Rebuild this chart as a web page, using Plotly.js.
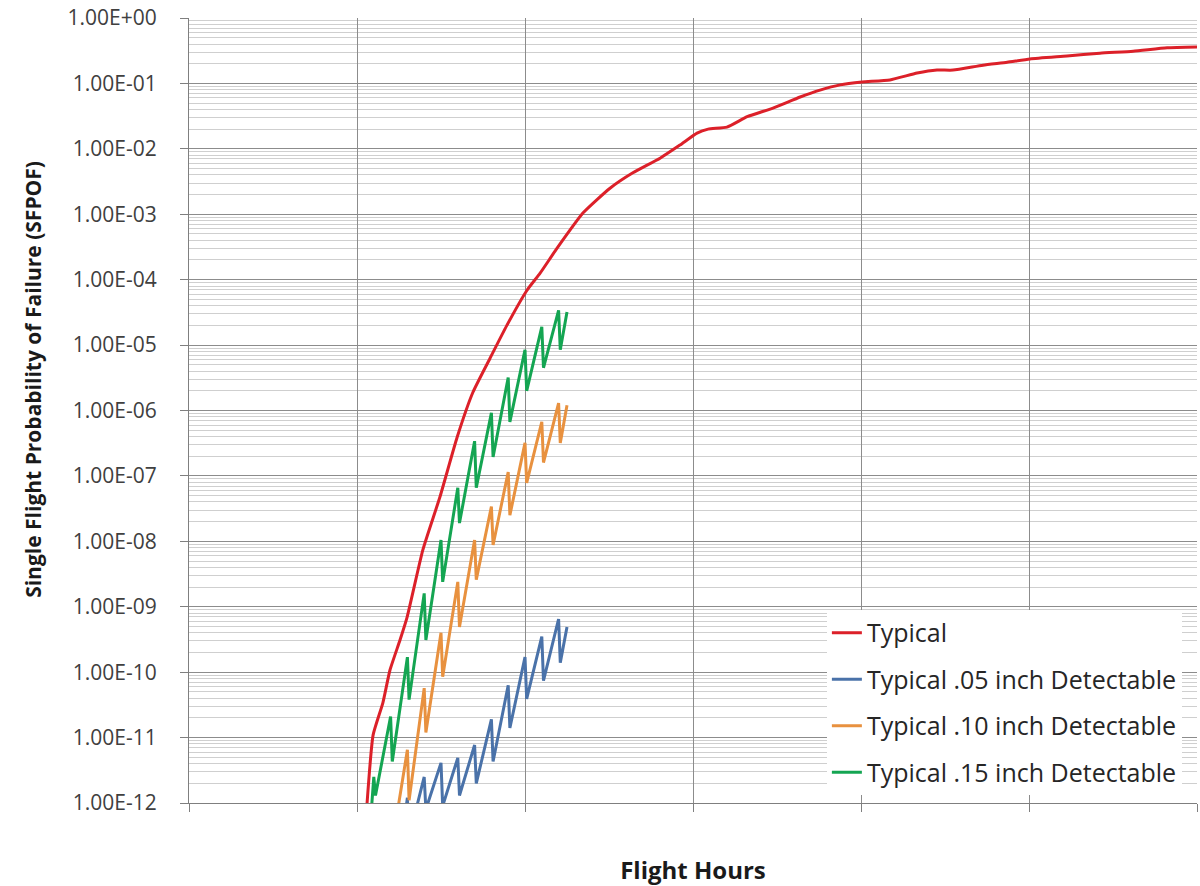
<!DOCTYPE html>
<html>
<head>
<meta charset="utf-8">
<script src="https://cdn.plot.ly/plotly-3.0.1.min.js"></script>
<style>
  html, body { margin: 0; padding: 0; background: #ffffff; }
  #chart { width: 1200px; height: 886px; }
</style>
</head>
<body>
<div id="chart"></div>
<script>
// Flight hours and single flight probability of failure for each case
const typicalHours = [5300, 5480, 5770, 5980, 6280, 6490, 6960, 7470, 7980, 8450, 8960, 9460, 10060, 10450, 10950, 11730, 12530, 13210, 14020, 14610, 15120, 15450, 16010, 16610, 17380, 18190, 18780, 19380, 20030, 20860, 21670, 22260, 22740, 23630, 24350, 25030, 26130, 27110, 28100, 29110, 30000];
const typicalPof = [1e-12, 1.1e-11, 3.4e-11, 1.07e-10, 3.1e-10, 6.9e-10, 7.4e-9, 4.8e-8, 3.9e-7, 1.9e-6, 6.3e-6, 2.0e-5, 6.9e-5, 1.26e-4, 3.0e-4, 1.05e-3, 2.5e-3, 4.3e-3, 7.2e-3, 1.14e-2, 1.74e-2, 2.0e-2, 2.15e-2, 3.1e-2, 4.2e-2, 6.2e-2, 7.9e-2, 9.5e-2, 0.105, 0.113, 0.144, 0.16, 0.16, 0.19, 0.21, 0.236, 0.262, 0.29, 0.31, 0.35, 0.36];

const det05Hours = [6420, 6500, 6550, 7000, 7050, 7500, 7550, 8000, 8050, 8500, 8550, 9000, 9050, 9500, 9550, 10000, 10050, 10500, 10550, 11000, 11050, 11250];
const det05Pof = [6e-13, 1.2e-12, 3e-13, 2.5e-12, 8e-13, 4.1e-12, 9e-13, 4.9e-12, 1.3e-12, 7.7e-12, 2.0e-12, 1.9e-11, 4.3e-12, 6.3e-11, 1.4e-11, 1.7e-10, 3.9e-11, 3.5e-10, 7.4e-11, 6.5e-10, 1.4e-10, 4.9e-10];

const det10Hours = [6150, 6500, 6550, 7000, 7050, 7500, 7550, 8000, 8050, 8500, 8550, 9000, 9050, 9500, 9550, 10000, 10050, 10500, 10550, 11000, 11050, 11250];
const det10Pof = [5e-13, 6.5e-12, 1.1e-12, 5.7e-11, 1.2e-11, 4.0e-10, 8.5e-11, 2.4e-9, 4.9e-10, 1.05e-8, 2.6e-9, 3.4e-8, 8.8e-9, 1.15e-7, 2.5e-8, 3.2e-7, 7.8e-8, 6.7e-7, 1.6e-7, 1.3e-6, 3.2e-7, 1.2e-6];

const det15Hours = [5400, 5500, 5550, 6000, 6050, 6500, 6550, 7000, 7050, 7500, 7550, 8000, 8050, 8500, 8550, 9000, 9050, 9500, 9550, 10000, 10050, 10500, 10550, 11000, 11050, 11250];
const det15Pof = [5e-13, 2.5e-12, 1.3e-12, 2.1e-11, 4.3e-12, 1.7e-10, 3.8e-11, 1.6e-9, 3.1e-10, 1.05e-8, 2.4e-9, 6.6e-8, 1.9e-8, 3.4e-7, 6.6e-8, 9.2e-7, 1.95e-7, 3.2e-6, 6.7e-7, 8.5e-6, 2.0e-6, 1.9e-5, 4.5e-6, 3.4e-5, 8.5e-6, 3.2e-5];

// Decade tick labels for the probability axis
const pofTickVals = [1e-12, 1e-11, 1e-10, 1e-9, 1e-8, 1e-7, 1e-6, 1e-5, 1e-4, 1e-3, 1e-2, 1e-1, 1];
const pofTickText = ["1.00E-12", "1.00E-11", "1.00E-10", "1.00E-09", "1.00E-08", "1.00E-07", "1.00E-06", "1.00E-05", "1.00E-04", "1.00E-03", "1.00E-02", "1.00E-01", "1.00E+00"];

const seriesNames = ["Typical", "Typical .05 inch Detectable", "Typical .10 inch Detectable", "Typical .15 inch Detectable"];

const FONT = "'Open Sans', 'Noto Sans', sans-serif";

function lineTrace(x, y, name, color, group, smooth) {
  const line = { color: color, width: 3 };
  if (smooth) { line.shape = "spline"; line.smoothing = 0.5; }
  return {
    type: "scatter", mode: "lines", x: x, y: y, name: name,
    legendgroup: group,
    line: line,
    hoverinfo: "x+y+name"
  };
}

const traces = [
  lineTrace(typicalHours, typicalPof, seriesNames[0], "#dc2029", "g1", true),
  lineTrace(det05Hours, det05Pof, seriesNames[1], "#4a72a9", "g2", false),
  lineTrace(det10Hours, det10Pof, seriesNames[2], "#e8913f", "g3", false),
  lineTrace(det15Hours, det15Pof, seriesNames[3], "#14a552", "g4", false)
];

const layout = {
  width: 1200, height: 886,
  margin: { l: 189, r: 3, t: 18, b: 83 },
  paper_bgcolor: "#ffffff", plot_bgcolor: "#ffffff",
  font: { family: FONT, color: "#404040", size: 21 },
  showlegend: true,
  legend: {
    x: 0.985, xanchor: "right", y: 0.0102, yanchor: "bottom",
    bgcolor: "#ffffff", borderwidth: 0,
    font: { family: FONT, size: 25, color: "#262626" },
    traceorder: "grouped", tracegroupgap: 11,
    itemwidth: 30
  },
  xaxis: {
    range: [0, 30000], tickmode: "linear", tick0: 0, dtick: 5000,
    showticklabels: false, ticks: "outside", ticklen: 8, tickcolor: "#7f7f7f",
    showgrid: true, gridcolor: "#8c8c8c", gridwidth: 1,
    showline: true, linecolor: "#7f7f7f", linewidth: 1,
    zeroline: false,
    title: { text: "Flight Hours", font: { family: FONT, size: 24, color: "#1a1a1a", weight: "bold" }, standoff: 55 }
  },
  yaxis: {
    type: "log", range: [-12, 0],
    tickmode: "array", tickvals: pofTickVals, ticktext: pofTickText,
    ticks: "outside", ticklen: 8, tickcolor: "#7f7f7f",
    ticklabelstandoff: 19,
    tickfont: { family: FONT, size: 21, color: "#404040" },
    showgrid: true, gridcolor: "#8c8c8c", gridwidth: 1,
    minor: { dtick: "D1", showgrid: true, gridcolor: "#cfcfcf", gridwidth: 1, ticks: "" },
    showline: true, linecolor: "#7f7f7f", linewidth: 1,
    zeroline: false
  },
  // plain white panel behind the legend entries
  shapes: [{
    type: "rect", xref: "x domain", yref: "y domain",
    x0: 0.624, x1: 0.999, y0: 0.001, y1: 0.243,
    fillcolor: "#ffffff", line: { width: 0 }, layer: "below"
  }],
  annotations: [{
    text: "<b>Single Flight Probability of Failure (SFPOF)</b>",
    xref: "paper", yref: "paper", x: -0.155, y: 0.54,
    xanchor: "center", yanchor: "middle", textangle: -90, showarrow: false,
    font: { family: FONT, size: 21, color: "#1a1a1a" }
  }]
};

Plotly.newPlot("chart", traces, layout, { displayModeBar: false });
</script>
</body>
</html>
